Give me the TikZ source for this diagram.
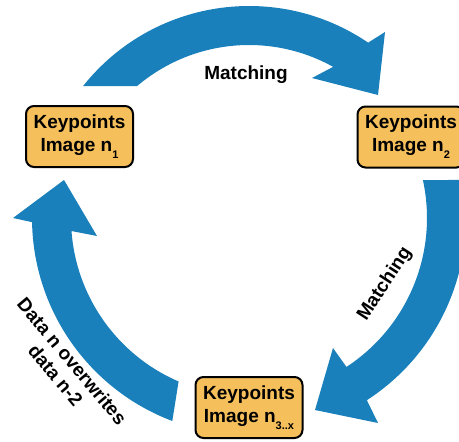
\documentclass[tikz,border=0pt]{standalone}
\usepackage{fontspec}
\setmainfont{Liberation Sans}
\definecolor{arrowblue}{HTML}{1A80BB}
\definecolor{boxorange}{HTML}{F5BF5C}
% lowered small index after "Image n"
\newcommand{\kpsub}[1]{\raisebox{-7pt}{\fontsize{11}{11}\selectfont #1}}
\begin{document}
\begin{tikzpicture}[x=1pt,y=1pt,
  flowarrow/.style={fill=arrowblue, draw=none},
  kpbox/.style={draw=black, line width=2pt, fill=boxorange, rounded corners=8pt,
    minimum width=107pt, minimum height=61pt, align=center, inner sep=0pt,
    font=\fontsize{19}{23}\selectfont\bfseries},
  lbl/.style={font=\fontsize{19}{21.5}\selectfont\bfseries, align=center, inner sep=0pt}]
\useasboundingbox (0,0) rectangle (459,-442);
\clip (0,0) rectangle (459,-442);
\coordinate (C) at (249,-218);

% three curved block arrows around the common centre C (clockwise cycle)
\begin{scope}[shift={(C)}]
  % top: n1 -> n2
  \fill[flowarrow] (141.5:212) arc[start angle=141.5, end angle=55.8, radius=212]
    -- (136,186) -- (129,123) -- (63,140) -- (60.9:173)
    arc[start angle=60.9, end angle=130.3, radius=173] -- cycle;
  % right: n2 -> n3..x
  \fill[flowarrow] (10.1:217) arc[start angle=10.1, end angle=-57.1, radius=217]
    -- (129,-205) -- (66,-192) -- (84,-130) -- (-56.8:178)
    arc[start angle=-56.8, end angle=12.3, radius=178] -- cycle;
  % left: n3..x -> n1
  \fill[flowarrow] (249.3:217) arc[start angle=249.3, end angle=181.1, radius=217]
    -- (-236,0) -- (-185,38) -- (-152,-18) -- (184.2:178)
    arc[start angle=184.2, end angle=246.7, radius=178] -- cycle;
\end{scope}

% keypoint boxes
\node[kpbox] (kp1) at (79.5,-136.5) {Keypoints\\Image n\kpsub{1}};
\node[kpbox] (kp2) at (411,-137) {Keypoints\\Image n\kpsub{2}};
\node[kpbox] (kp3) at (249,-407.5) {Keypoints\\Image n\kpsub{3..x}};

% arrow labels
\node[lbl] (m1) at (246,-75) {Matching};
\node[lbl, rotate=57] (m2) at (385,-284) {Matching};
\node[lbl, rotate=-50] (ow) at (64,-368) {Data n overwrites\\data n-2};
\end{tikzpicture}
\end{document}
